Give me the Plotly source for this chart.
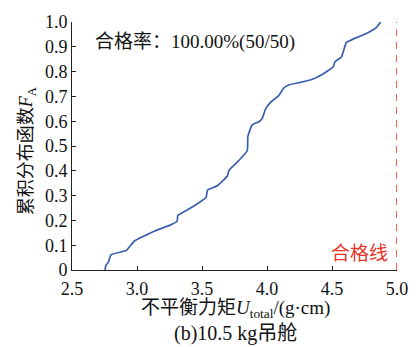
import plotly.graph_objects as go

# Empirical cumulative distribution of the unbalance moment (50 samples)
u_total = [2.754, 2.760, 2.779, 2.800, 2.920, 2.945, 2.983, 3.060, 3.136, 3.263,
           3.309, 3.314, 3.365, 3.441, 3.531, 3.543, 3.619, 3.695, 3.708, 3.760,
           3.848, 3.853, 3.886, 3.937, 3.963, 3.989, 4.027, 4.090, 4.128, 4.166,
           4.243, 4.344, 4.421, 4.510, 4.523, 4.573, 4.586, 4.611, 4.650, 4.777,
           4.840, 4.874]
f_a = [0.000, 0.018, 0.031, 0.061, 0.079, 0.096, 0.118, 0.138, 0.157, 0.183,
       0.197, 0.220, 0.236, 0.259, 0.292, 0.322, 0.340, 0.379, 0.402, 0.429,
       0.481, 0.539, 0.585, 0.598, 0.611, 0.650, 0.676, 0.703, 0.733, 0.746,
       0.755, 0.768, 0.787, 0.820, 0.840, 0.859, 0.879, 0.918, 0.928, 0.957,
       0.977, 1.000]

limit_u = 5.0
limit_f = [0.0, 1.0]

x_ticks = [2.5, 3.0, 3.5, 4.0, 4.5, 5.0]
x_tick_text = ["2.5", "3.0", "3.5", "4.0", "4.5", "5.0"]
y_ticks = [0.0, 0.1, 0.2, 0.3, 0.4, 0.5, 0.6, 0.7, 0.8, 0.9, 1.0]
y_tick_text = ["0", "0.1", "0.2", "0.3", "0.4", "0.5", "0.6", "0.7", "0.8", "0.9", "1.0"]

FONT = "Liberation Serif, Times New Roman, Noto Sans CJK SC, serif"

fig = go.Figure()
fig.add_trace(go.Scatter(
    x=u_total, y=f_a, mode="lines",
    line=dict(color="#3a5fae", width=1.7, shape="spline", smoothing=0.4),
    showlegend=False, hoverinfo="skip",
))
fig.add_trace(go.Scatter(
    x=[limit_u, limit_u], y=limit_f, mode="lines",
    line=dict(color="#f26650", width=2, dash="7px,6px"),
    showlegend=False, hoverinfo="skip", cliponaxis=False,
))

axis_common = dict(
    showline=True, linecolor="#222222", linewidth=1,
    ticks="inside", ticklen=4, tickcolor="#222222", tickwidth=1,
    showgrid=False, zeroline=False, mirror=False,
    tickfont=dict(family=FONT, size=18, color="#111111"),
)

fig.update_layout(
    width=420, height=347,
    margin=dict(l=72, r=21, t=14, b=77, pad=0),
    paper_bgcolor="white", plot_bgcolor="white",
    font=dict(family=FONT, color="#111111"),
    xaxis=dict(range=[2.5, 5.0], tickvals=x_ticks, ticktext=x_tick_text,
               ticklabelstandoff=2, **axis_common),
    yaxis=dict(range=[0, 1.0], tickvals=y_ticks, ticktext=y_tick_text, **axis_common),
    annotations=[
        dict(text="合格率：100.00%(50/50)", x=2.663, y=0.918, xref="x", yref="y",
             xanchor="left", yanchor="middle", showarrow=False,
             font=dict(family=FONT, size=19, color="#111111")),
        dict(text="合格线", x=4.945, y=0.066, xref="x", yref="y",
             xanchor="right", yanchor="middle", showarrow=False,
             font=dict(family=FONT, size=19, color="#e8342a")),
        dict(text="累积分布函数<i>F</i><sub>A</sub>", x=-0.1364, y=0.4775,
             xref="paper", yref="paper", textangle=-90,
             xanchor="center", yanchor="middle", showarrow=False,
             font=dict(family=FONT, size=18, color="#111111")),
        dict(text="不平衡力矩<i>U</i><sub>total</sub>/(g·cm)", x=0.5035, y=-0.1585,
             xref="paper", yref="paper", xanchor="center", yanchor="middle",
             showarrow=False, font=dict(family=FONT, size=19, color="#111111")),
        dict(text="(b)10.5 kg吊舱", x=0.5035, y=-0.256,
             xref="paper", yref="paper", xanchor="center", yanchor="middle",
             showarrow=False, font=dict(family=FONT, size=20, color="#111111")),
    ],
)

fig.write_html("out.html")
